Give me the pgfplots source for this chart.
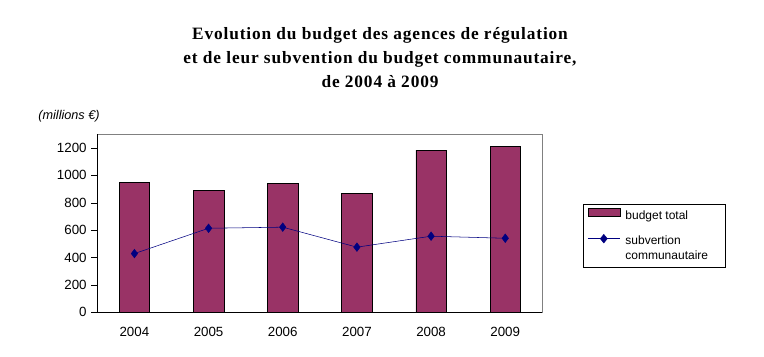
\documentclass[border=0pt]{standalone}
\usepackage{pgfplots}
\pgfplotsset{compat=1.18}
\usepackage{fontspec}
\setmainfont{Liberation Sans}
\newfontfamily\titlefont{Liberation Serif}[LetterSpace=5]
\definecolor{barcol}{RGB}{153,51,102}
\definecolor{linecol}{RGB}{0,0,128}
\begin{document}
\begin{tikzpicture}
\path (0pt,0pt) rectangle (573pt,267.75pt);
\node[font=\titlefont\bfseries\fontsize{13}{18}\selectfont, align=center, anchor=north] at (285pt,250.5pt)
  {Evolution du budget des agences de régulation\\et de leur subvention du budget communautaire,\\de 2004 à 2009};
\node[font=\itshape\fontsize{9.5}{11}\selectfont] at (51.75pt,180.75pt) {(millions €)};
\begin{axis}[
  at={(73pt,33.5pt)}, anchor=south west,
  scale only axis, width=333.75pt, height=133.5pt,
  xmin=-0.5, xmax=5.5, ymin=0, ymax=1300,
  xtick={0,1,2,3,4,5},
  xticklabels={2004,2005,2006,2007,2008,2009},
  extra x ticks={-0.5,0.5,1.5,2.5,3.5,4.5,5.5},
  extra x tick labels={},
  extra x tick style={major tick length=4.5pt, tick style={black}},
  ytick={0,200,...,1200},
  tick align=outside,
  major tick length=4.5pt,
  x tick style={draw=none},
  y tick style={black},
  xtick pos=bottom, ytick pos=left,
  axis line style={gray},
  tick label style={font=\fontsize{10}{12}\selectfont},
  xticklabel style={yshift=-3pt},
  /pgf/number format/assume math mode=true,
  /pgf/number format/1000 sep={},
  legend style={at={(1.092,0.608)}, anchor=north west, draw=black,
    font=\fontsize{9}{11}\selectfont, legend cell align=left,
    row sep=7pt, inner xsep=3pt, inner ysep=2.5pt},
  after end axis/.code={
    \draw[black] (rel axis cs:0,0) -- (rel axis cs:1,0);
    \draw[black] (rel axis cs:0,0) -- (rel axis cs:0,1);
  },
]
\addplot[ybar, bar width=22.8pt, fill=barcol, draw=black,
  legend image code/.code={\draw[fill=barcol,draw=black] (0pt,0pt) rectangle (24pt,6pt);}]
  coordinates {(0,951) (1,892) (2,944) (3,871) (4,1185) (5,1214)};
\addlegendentry{\parbox[b]{72pt}{\hspace*{2pt}budget total}}
\addplot[color=linecol, mark=diamond*, mark size=3.2pt, mark options={fill=linecol},
  legend image code/.code={\draw[linecol] (0pt,7.5pt) -- (24pt,7.5pt); \path[fill=linecol] (12pt,7.5pt) +(-2.6pt,0) -- +(0,3.2pt) -- +(2.6pt,0) -- +(0,-3.2pt) -- cycle;}]
  coordinates {(0,429) (1,614) (2,622) (3,476) (4,556) (5,541)};
\addlegendentry{\parbox[b]{72pt}{\hspace*{2pt}subvertion\\\hspace*{2pt}communautaire}}
\end{axis}
\end{tikzpicture}
\end{document}
